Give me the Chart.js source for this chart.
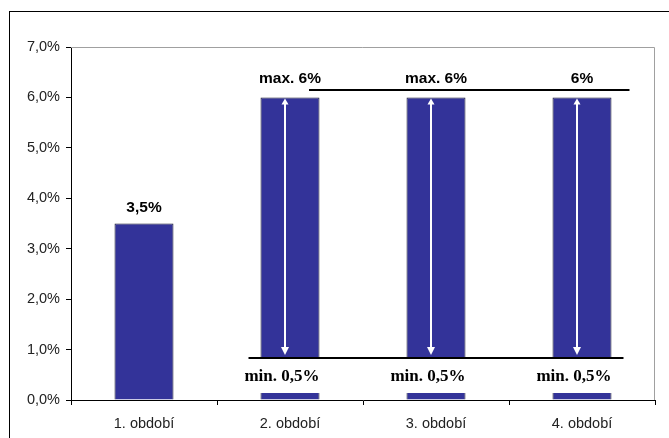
<!DOCTYPE html>
<html>
<head>
<meta charset="utf-8">
<script src="https://cdn.jsdelivr.net/npm/chart.js@4"></script>
<style>
  html, body { margin: 0; padding: 0; background: #fff; }
  #wrap { width: 669px; height: 438px; position: relative; }
</style>
</head>
<body>
<div id="wrap"><canvas id="chart" width="669" height="438"></canvas></div>
<script>
// data
const obdobi = ["1. období", "2. období", "3. období", "4. období"];
const sazba = [3.5, 6, 6, 6];
const horniPopisky = ["3,5%", "max. 6%", "max. 6%", "6%"];
const dolniPopisky = [null, "min. 0,5%", "min. 0,5%", "min. 0,5%"];
const yTicks = [0, 1, 2, 3, 4, 5, 6, 7];

// úrovně čar s rozsahem
const maxCara = 6.14;
const minCara = 0.83;

const fmt = v => v.toFixed(1).replace(".", ",") + "%";

// popisky, čáry a šipky nad sloupci
const annot = {
  id: "annot",
  beforeDraw(chart) {
    const c = chart.ctx;
    c.save();
    c.fillStyle = "#fff";
    c.fillRect(0, 0, chart.width, chart.height);
    // vnější rámeček
    c.strokeStyle = "#000";
    c.lineWidth = 1;
    c.strokeRect(9.5, 11.5, chart.width, chart.height);
    c.restore();
  },
  afterDatasetsDraw(chart) {
    const c = chart.ctx;
    const x = chart.scales.x, y = chart.scales.y;
    const area = chart.chartArea;
    const bars = chart.getDatasetMeta(0).data;

    c.save();
    // šedý rámeček plochy nahoře a vpravo
    c.strokeStyle = "#a0a0a0";
    c.lineWidth = 1;
    c.beginPath();
    c.moveTo(area.left, area.top + 0.5);
    c.lineTo(area.right - 0.5, area.top + 0.5);
    c.lineTo(area.right - 0.5, area.bottom);
    c.stroke();

    const yMin = Math.round(y.getPixelForValue(minCara));
    const yMax = Math.round(y.getPixelForValue(maxCara));
    const y0 = y.getPixelForValue(0);

    // bílé pruhy pod spodní čarou
    c.fillStyle = "#fff";
    bars.forEach((b, i) => {
      if (!dolniPopisky[i]) return;
      c.fillRect(b.x - b.width / 2 - 2, yMin, b.width + 4, y0 - 7 - yMin);
    });

    // šipky
    c.strokeStyle = "#fff";
    c.fillStyle = "#fff";
    c.lineWidth = 2;
    bars.forEach((b, i) => {
      if (!dolniPopisky[i]) return;
      const ax = Math.round(b.x - 5);
      const top = b.y + 1;
      const bot = yMin - 3;
      c.beginPath();
      c.moveTo(ax, top + 4);
      c.lineTo(ax, bot - 5);
      c.stroke();
      c.beginPath();
      c.moveTo(ax, top);
      c.lineTo(ax - 3.5, top + 6);
      c.lineTo(ax + 3.5, top + 6);
      c.closePath();
      c.fill();
      c.beginPath();
      c.moveTo(ax, bot);
      c.lineTo(ax - 4, bot - 8);
      c.lineTo(ax + 4, bot - 8);
      c.closePath();
      c.fill();
    });

    // čáry rozsahu
    c.strokeStyle = "#000";
    c.lineWidth = 2;
    const b1 = bars[1], b3 = bars[3];
    c.beginPath();
    c.moveTo(b1.x + 19, yMax);
    c.lineTo(b3.x + b3.width / 2 + 18, yMax);
    c.stroke();
    c.beginPath();
    c.moveTo(b1.x - b1.width / 2 - 12, yMin);
    c.lineTo(b3.x + b3.width / 2 + 12, yMin);
    c.stroke();

    // popisky
    c.fillStyle = "#000";
    c.textAlign = "center";
    c.textBaseline = "middle";
    c.font = "bold 15.5px 'Liberation Sans', Arial, sans-serif";
    bars.forEach((b, i) => {
      const off = dolniPopisky[i] ? 19 : 16;
      c.fillText(horniPopisky[i], b.x, b.y - off);
    });
    c.font = "bold 17px 'Liberation Serif', 'Times New Roman', serif";
    bars.forEach((b, i) => {
      if (!dolniPopisky[i]) return;
      c.fillText(dolniPopisky[i], b.x - 8, yMin + 19);
    });
    c.restore();
  }
};

new Chart(document.getElementById("chart"), {
  type: "bar",
  data: {
    labels: obdobi,
    datasets: [{
      data: sazba,
      backgroundColor: "#333399",
      borderColor: "#15152e",
      borderWidth: 1,
      barPercentage: 0.404,
      categoryPercentage: 1
    }]
  },
  options: {
    responsive: false,
    animation: false,
    layout: { padding: { left: 0, top: 47, right: 14, bottom: 0 } },
    plugins: {
      legend: { display: false },
      tooltip: { enabled: false }
    },
    scales: {
      x: {
        afterFit(s) { s.height = 38; },
        grid: {
          offset: true,
          drawOnChartArea: false,
          drawTicks: true,
          tickLength: 5,
          color: "#000"
        },
        border: { color: "#000", width: 1 },
        ticks: {
          color: "#222",
          padding: 10,
          font: { family: "'Liberation Sans', Arial, sans-serif", size: 14.5 }
        }
      },
      y: {
        min: 0,
        max: 7,
        afterFit(s) { s.width = 71; },
        afterBuildTicks(s) { s.ticks = yTicks.map(v => ({ value: v })); },
        grid: {
          drawOnChartArea: false,
          drawTicks: true,
          tickLength: 5,
          color: "#000"
        },
        border: { color: "#000", width: 1 },
        ticks: {
          color: "#222",
          padding: 6,
          callback: v => fmt(v),
          font: { family: "'Liberation Sans', Arial, sans-serif", size: 14.5 }
        }
      }
    }
  },
  plugins: [annot]
});
</script>
</body>
</html>
